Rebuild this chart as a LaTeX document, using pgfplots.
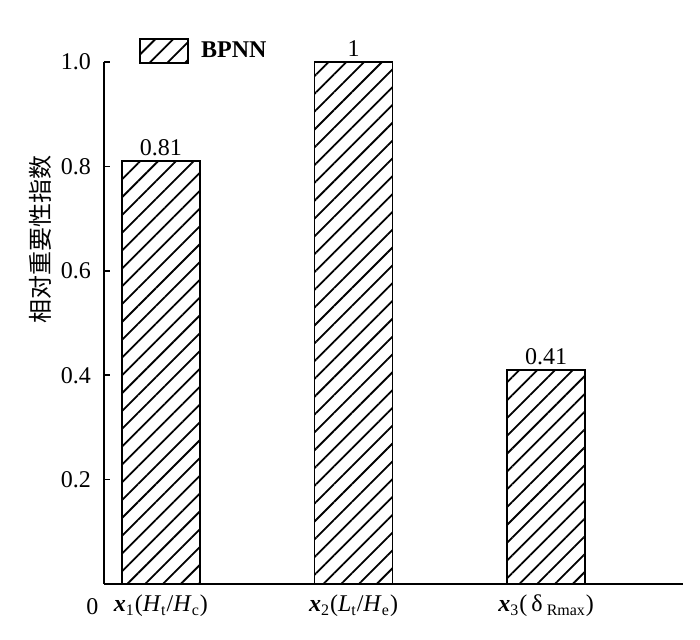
\documentclass[border=0pt]{standalone}
\usepackage{fontspec}
\setmainfont{Liberation Serif}
\newfontfamily\cjk{Noto Sans CJK SC}
\usepackage{pgfplots}
\pgfplotsset{compat=1.18}
\usetikzlibrary{patterns.meta}

\tikzset{hatch/.style={pattern={Lines[angle=45,distance=6.3pt,line width=0.9pt]}}}

\begin{document}
\begin{tikzpicture}
\useasboundingbox (-52pt,-28pt) rectangle (298pt,292pt);
\begin{axis}[at={(0,0)},anchor=south west,scale only axis,
	width=289.5pt,height=261pt,
	xmin=0.705,xmax=3.71,ymin=0,ymax=1.0,
	axis lines=left,axis line style={line width=1pt,-},
	clip=false,
	ytick={0.2,0.4,0.6,0.8,1.0},
	yticklabel style={/pgf/number format/fixed,/pgf/number format/precision=1,/pgf/number format/fixed zerofill,xshift=-3pt},
	/pgf/number format/assume math mode=true,
	tick align=inside,major tick length=3pt,
	ytick style={line width=0.8pt,black},
	xtick={1,2,3},xtick style={draw=none},
	xticklabels={{\textbf{\textit{x}}\textsubscript{1}(\textit{H}\textsubscript{t}/\textit{H}\textsubscript{c})},
		{\textbf{\textit{x}}\textsubscript{2}(\textit{L}\textsubscript{t}/\textit{H}\textsubscript{e})},
		{\textbf{\textit{x}}\textsubscript{3}(\,δ\,\textsubscript{Rmax})}},
	tick label style={font=\fontsize{12}{14}\selectfont},
	xticklabel style={yshift=-2pt},
	ylabel={\cjk 相对重要性指数},
	ylabel style={font=\fontsize{12}{14}\selectfont,at={(axis description cs:-0.11,0.66)},anchor=center},
	legend style={draw=none,fill=none,at={(0.05,1.055)},anchor=north west,
		font=\fontsize{12}{14}\selectfont\bfseries,legend cell align=left},
	]
\addplot[ybar,bar width=39pt,draw=black,line width=0.9pt,hatch,
	nodes near coords,point meta=explicit symbolic,
	every node near coord/.style={font=\fontsize{12}{14}\selectfont,yshift=-1pt},
	area legend,
	legend image code/.code={\draw[line width=0.9pt,hatch] (0pt,-6pt) rectangle (24pt,6pt);}]
	coordinates {(1,0.81) [0.81] (2,1) [1] (3,0.41) [0.41]};
\addlegendentry{\hspace{4pt}BPNN}
\node[font=\fontsize{12}{14}\selectfont] at (rel axis cs:-0.02,-0.044) {0};
\end{axis}
\end{tikzpicture}
\end{document}
